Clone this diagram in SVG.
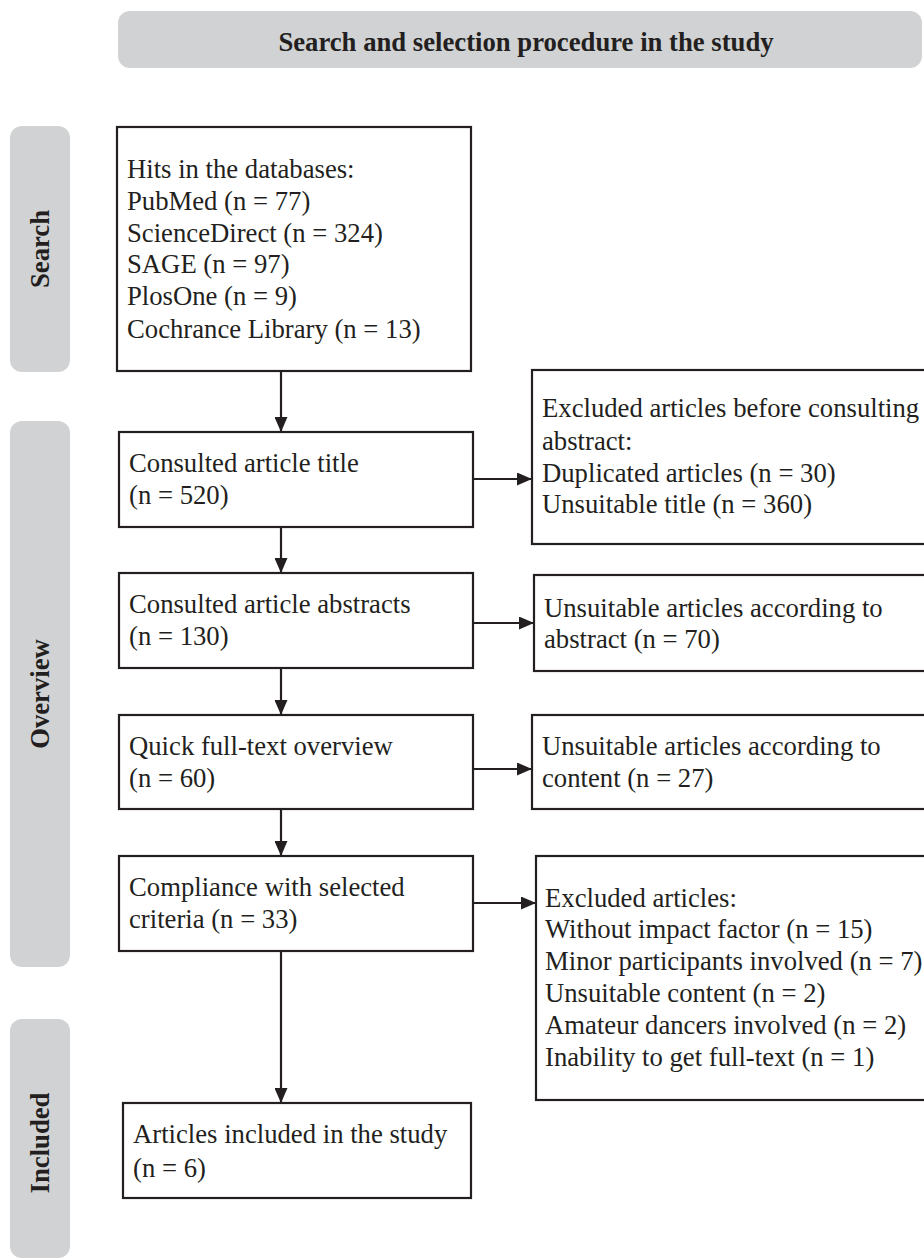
<svg xmlns="http://www.w3.org/2000/svg" width="924" height="1260" viewBox="0 0 924 1260">
<style>
.band{fill:#d1d2d4;}
.box{fill:#ffffff;stroke:#231f20;stroke-width:2.2;}
.t{font-family:"Liberation Serif","Times New Roman",serif;font-size:26.7px;fill:#231f20;}
.b{font-family:"Liberation Serif","Times New Roman",serif;font-size:26.7px;font-weight:bold;fill:#231f20;}
.c{stroke:#231f20;stroke-width:2.2;fill:none;}
</style>
<defs>
<marker id="ah" viewBox="0 0 15 13" refX="15" refY="6.5" markerWidth="15" markerHeight="13" markerUnits="userSpaceOnUse" orient="auto">
<path d="M0,0 L15,6.5 L0,13 Z" fill="#231f20"/>
</marker>
</defs>
<rect width="924" height="1260" fill="#ffffff"/>
<g id="title">
<rect class="band" x="118" y="11" width="804" height="57" rx="12"/>
<text class="b" x="526" y="51" text-anchor="middle">Search and selection procedure in the study</text>
</g>
<g id="lane-search">
<rect class="band" x="10" y="126" width="60" height="246" rx="12"/>
<text class="b" transform="translate(49,249) rotate(-90)" text-anchor="middle">Search</text>
</g>
<g id="lane-overview">
<rect class="band" x="10" y="421" width="60" height="546" rx="12"/>
<text class="b" transform="translate(49,694) rotate(-90)" text-anchor="middle">Overview</text>
</g>
<g id="lane-included">
<rect class="band" x="10" y="1019" width="60" height="239" rx="12"/>
<text class="b" transform="translate(49,1143) rotate(-90)" text-anchor="middle">Included</text>
</g>
<g id="connectors">
<line class="c" x1="281" y1="371" x2="281" y2="432" marker-end="url(#ah)"/>
<line class="c" x1="281" y1="527" x2="281" y2="573" marker-end="url(#ah)"/>
<line class="c" x1="281" y1="668" x2="281" y2="715" marker-end="url(#ah)"/>
<line class="c" x1="281" y1="809" x2="281" y2="856" marker-end="url(#ah)"/>
<line class="c" x1="281" y1="951" x2="281" y2="1103" marker-end="url(#ah)"/>
<line class="c" x1="473" y1="479" x2="532" y2="479" marker-end="url(#ah)"/>
<line class="c" x1="473" y1="623" x2="534" y2="623" marker-end="url(#ah)"/>
<line class="c" x1="473" y1="769" x2="532" y2="769" marker-end="url(#ah)"/>
<line class="c" x1="473" y1="903" x2="536" y2="903" marker-end="url(#ah)"/>
</g>
<g id="n-hits">
<rect class="box" x="117" y="127" width="354" height="244"/>
<text class="t" x="127" y="178">Hits in the databases:</text>
<text class="t" x="127" y="210">PubMed (n = 77)</text>
<text class="t" x="127" y="242">ScienceDirect (n = 324)</text>
<text class="t" x="127" y="273">SAGE (n = 97)</text>
<text class="t" x="127" y="305">PlosOne (n = 9)</text>
<text class="t" x="127" y="338">Cochrance Library (n = 13)</text>
</g>
<g id="n-title">
<rect class="box" x="119" y="432" width="354" height="95"/>
<text class="t" x="129" y="472">Consulted article title</text>
<text class="t" x="129" y="504">(n = 520)</text>
</g>
<g id="n-abstracts">
<rect class="box" x="119" y="573" width="354" height="95"/>
<text class="t" x="129" y="613">Consulted article abstracts</text>
<text class="t" x="129" y="645">(n = 130)</text>
</g>
<g id="n-fulltext">
<rect class="box" x="119" y="715" width="354" height="94"/>
<text class="t" x="129" y="755">Quick full-text overview</text>
<text class="t" x="129" y="787">(n = 60)</text>
</g>
<g id="n-compliance">
<rect class="box" x="119" y="856" width="354" height="95"/>
<text class="t" x="129" y="896">Compliance with selected</text>
<text class="t" x="129" y="928">criteria (n = 33)</text>
</g>
<g id="n-included">
<rect class="box" x="123" y="1103" width="348" height="95"/>
<text class="t" x="133" y="1143">Articles included in the study</text>
<text class="t" x="133" y="1177">(n = 6)</text>
</g>
<g id="x-before-abstract">
<rect class="box" x="532" y="370" width="400" height="174"/>
<text class="t" x="542" y="417">Excluded articles before consulting</text>
<text class="t" x="542" y="450">abstract:</text>
<text class="t" x="542" y="482">Duplicated articles (n = 30)</text>
<text class="t" x="542" y="513">Unsuitable title (n = 360)</text>
</g>
<g id="x-abstract">
<rect class="box" x="534" y="575" width="400" height="96"/>
<text class="t" x="544" y="617">Unsuitable articles according to</text>
<text class="t" x="544" y="648">abstract (n = 70)</text>
</g>
<g id="x-content">
<rect class="box" x="532" y="715" width="400" height="94"/>
<text class="t" x="542" y="755">Unsuitable articles according to</text>
<text class="t" x="542" y="787">content (n = 27)</text>
</g>
<g id="x-criteria">
<rect class="box" x="536" y="856" width="400" height="244"/>
<text class="t" x="545" y="907">Excluded articles:</text>
<text class="t" x="545" y="938">Without impact factor (n = 15)</text>
<text class="t" x="545" y="970">Minor participants involved (n = 7)</text>
<text class="t" x="545" y="1002">Unsuitable content (n = 2)</text>
<text class="t" x="545" y="1034">Amateur dancers involved (n = 2)</text>
<text class="t" x="545" y="1066">Inability to get full-text (n = 1)</text>
</g>
</svg>
